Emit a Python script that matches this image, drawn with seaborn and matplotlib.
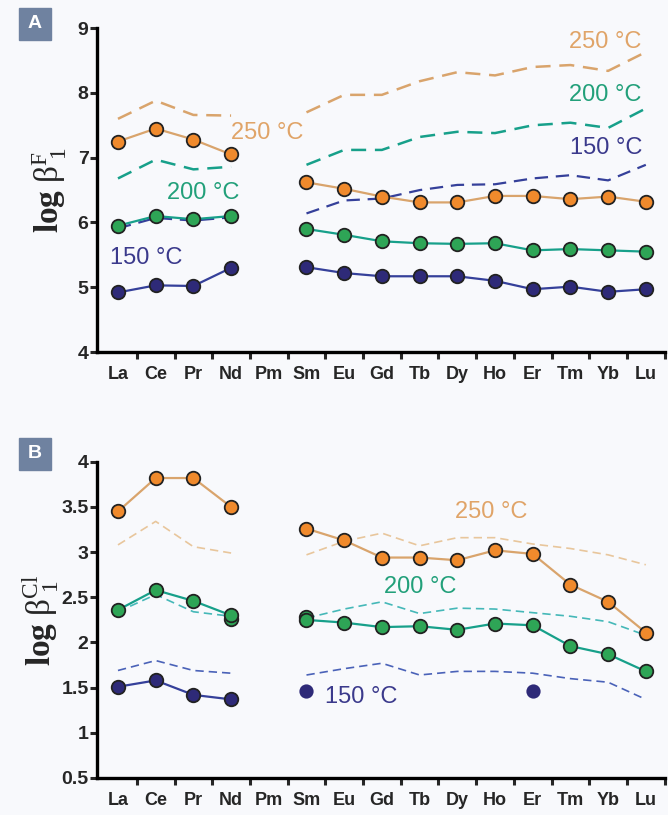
import numpy as np
import pandas as pd
import matplotlib
matplotlib.use("Agg")
import matplotlib.pyplot as plt
import seaborn as sns

# ==========================
# DATA
# ==========================

elements = ["La", "Ce", "Pr", "Nd", "Pm", "Sm", "Eu", "Gd", "Tb", "Dy", "Ho", "Er", "Tm", "Yb", "Lu"]
nan = np.nan

# panel A : log beta F 1 (measured, solid with markers)
a_250 = [7.25, 7.45, 7.28, 7.05, nan, 6.62, 6.52, 6.40, 6.31, 6.31, 6.41, 6.41, 6.36, 6.40, 6.32]
a_200 = [5.95, 6.10, 6.05, 6.10, nan, 5.90, 5.81, 5.71, 5.68, 5.67, 5.68, 5.57, 5.59, 5.57, 5.55]
a_150 = [4.92, 5.03, 5.02, 5.30, nan, 5.31, 5.22, 5.17, 5.17, 5.17, 5.10, 4.97, 5.01, 4.93, 4.97]

# panel A : predicted (dashed)
a_250_pred = [7.60, 7.88, 7.66, 7.65, nan, 7.70, 7.97, 7.97, 8.18, 8.32, 8.27, 8.40, 8.43, 8.34, 8.63]
a_200_pred = [6.68, 6.97, 6.82, 6.86, nan, 6.89, 7.12, 7.12, 7.32, 7.40, 7.38, 7.50, 7.54, 7.46, 7.76]
a_150_pred = [5.91, 6.07, 6.03, 6.08, nan, 6.14, 6.34, 6.37, 6.50, 6.58, 6.59, 6.68, 6.73, 6.65, 6.89]

# panel B : log beta Cl 1 (measured)
b_250 = [3.45, 3.82, 3.82, 3.50, nan, 3.26, 3.13, 2.94, 2.94, 2.91, 3.02, 2.98, 2.64, 2.45, 2.11]
b_200 = [2.36, 2.58, 2.46, 2.30, nan, 2.25, 2.22, 2.17, 2.18, 2.14, 2.21, 2.19, 1.96, 1.87, 1.68]
b_200_extra = [nan, nan, nan, 2.26, nan, 2.28, nan, nan, nan, nan, nan, nan, nan, nan, nan]
b_150 = [1.51, 1.58, 1.42, 1.37, nan, nan, nan, nan, nan, nan, nan, nan, nan, nan, nan]
b_150_pts = [nan, nan, nan, nan, nan, 1.46, nan, nan, nan, nan, nan, 1.46, nan, nan, nan]

# panel B : predicted (dashed)
b_250_pred = [3.08, 3.34, 3.06, 2.99, nan, 2.97, 3.12, 3.21, 3.07, 3.16, 3.16, 3.09, 3.04, 2.97, 2.86]
b_200_pred = [2.34, 2.53, 2.34, 2.29, nan, 2.27, 2.37, 2.45, 2.32, 2.38, 2.37, 2.33, 2.29, 2.23, 2.08]
b_150_pred = [1.69, 1.80, 1.69, 1.66, nan, 1.64, 1.71, 1.77, 1.64, 1.68, 1.68, 1.66, 1.60, 1.56, 1.37]

a_yticks = [4, 5, 6, 7, 8, 9]
b_yticks = [0.5, 1, 1.5, 2, 2.5, 3, 3.5, 4]
b_yticklabels = ["0.5", "1", "1.5", "2", "2.5", "3", "3.5", "4"]

# ==========================
# STYLE
# ==========================

sns.set_style("ticks")
plt.rcParams["font.family"] = ["Liberation Sans", "DejaVu Sans"]
plt.rcParams["mathtext.fontset"] = "custom"
plt.rcParams["mathtext.rm"] = "Liberation Serif"
plt.rcParams["mathtext.bf"] = "Liberation Serif:bold"
plt.rcParams["mathtext.it"] = "Liberation Serif:italic"

BG = "#f8f9fc"
orange_mk, orange_ln = "#f08a2c", "#d9a46c"
green_mk, green_ln = "#2ea556", "#17a08a"
blue_mk, blue_ln = "#2e2a78", "#35409a"


def to_frame(values):
    df = pd.DataFrame({"pos": np.arange(len(values)), "val": values})
    df["seg"] = np.where(df["pos"] < 4, 0, 1)
    return df.dropna()


def draw_line(ax, values, color, lw=1.6, dashes=None):
    df = to_frame(values)
    sns.lineplot(data=df, x="pos", y="val", units="seg", estimator=None,
                 color=color, lw=lw, ax=ax, legend=False)
    if dashes is not None:
        for ln in ax.lines[-df["seg"].nunique():]:
            ln.set_dashes(dashes)


def draw_points(ax, values, color, size=95, edge="#222222"):
    df = to_frame(values)
    sns.scatterplot(data=df, x="pos", y="val", color=color, s=size,
                    edgecolor=edge, linewidth=1.3, ax=ax, zorder=5, legend=False)


def style_axis(ax, ylim, yticks, yticklabels=None):
    ax.set_facecolor(BG)
    ax.set_xlim(-0.56, 14.5)
    ax.set_ylim(*ylim)
    ax.set_xticks(range(len(elements)))
    ax.set_xticklabels(elements, fontsize=13, fontweight="bold")
    ax.set_xticks(np.arange(0.5, 15, 1), minor=True)
    ax.tick_params(axis="x", which="major", length=0, pad=10)
    ax.tick_params(axis="x", which="minor", length=5, width=2.2, direction="out")
    ax.set_yticks(yticks)
    if yticklabels is not None:
        ax.set_yticklabels(yticklabels)
    ax.tick_params(axis="y", length=5, width=2.2, labelsize=14, pad=1)
    for t in ax.get_yticklabels():
        t.set_fontweight("bold")
    for s in ["top", "right"]:
        ax.spines[s].set_visible(False)
    for s in ["left", "bottom"]:
        ax.spines[s].set_linewidth(2.4)
        ax.spines[s].set_color("black")
    ax.set_xlabel("")


fig = plt.figure(figsize=(6.68, 8.15), dpi=100)
fig.patch.set_facecolor(BG)

axA = fig.add_axes([0.145, 0.568, 0.850, 0.3975])
axB = fig.add_axes([0.145, 0.0454, 0.850, 0.388])

# ==========================
# PANEL A
# ==========================

draw_line(axA, a_250_pred, orange_ln, lw=1.8, dashes=(6, 3.5))
draw_line(axA, a_200_pred, green_ln, lw=1.8, dashes=(6, 3.5))
draw_line(axA, a_150_pred, blue_ln, lw=1.6, dashes=(6, 3.5))
draw_line(axA, a_250, orange_ln)
draw_line(axA, a_200, green_ln)
draw_line(axA, a_150, blue_ln)
draw_points(axA, a_250, orange_mk)
draw_points(axA, a_200, green_mk)
draw_points(axA, a_150, blue_mk)

style_axis(axA, (4, 9), a_yticks)
axA.set_ylabel(r"$\mathbf{log}\ \mathrm{\beta}^{\mathrm{F}}_{\ \mathrm{1}}$", fontsize=24, labelpad=6)

lab = dict(fontsize=17, ha="left", va="center")
axA.text(3.0, 7.38, "250 °C", color="#e0a468", **lab)
axA.text(1.3, 6.45, "200 °C", color="#22a07a", **lab)
axA.text(-0.22, 5.45, "150 °C", color="#3b3a8c", **lab)
axA.text(11.95, 8.78, "250 °C", color="#e0a468", **lab)
axA.text(11.95, 7.97, "200 °C", color="#22a07a", **lab)
axA.text(12.0, 7.15, "150 °C", color="#3b3a8c", **lab)

# ==========================
# PANEL B
# ==========================

draw_line(axB, b_250_pred, "#e8c69c", lw=1.2, dashes=(5, 3))
draw_line(axB, b_200_pred, "#45b8b8", lw=1.2, dashes=(5, 3))
draw_line(axB, b_150_pred, "#4a62b8", lw=1.2, dashes=(5, 3))
draw_line(axB, b_250, orange_ln)
draw_line(axB, b_200, green_ln)
draw_line(axB, b_150, blue_ln)
draw_points(axB, b_200_extra, green_mk)
draw_points(axB, b_250, orange_mk)
draw_points(axB, b_200, green_mk)
draw_points(axB, b_150, blue_mk)
draw_points(axB, b_150_pts, blue_mk, size=80, edge=blue_mk)

style_axis(axB, (0.5, 4), b_yticks, b_yticklabels)
axB.set_ylabel(r"$\mathbf{log}\ \mathrm{\beta}^{\mathrm{Cl}}_{\ \mathrm{1}}$", fontsize=24, labelpad=0)

axB.text(8.95, 3.44, "250 °C", color="#e0a468", **lab)
axB.text(7.05, 2.61, "200 °C", color="#22a07a", **lab)
axB.text(5.5, 1.40, "150 °C", color="#3b3a8c", **lab)

# ==========================
# PANEL LETTERS
# ==========================

for letter, ypix in [("A", 8), ("B", 438)]:
    y0 = 1 - (ypix + 32) / 815
    fig.patches.append(plt.Rectangle((19 / 668, y0), 32 / 668, 32 / 815,
                                     transform=fig.transFigure, color="#6f82a0", zorder=0))
    fig.text(35 / 668, y0 + 16 / 815, letter, color="white", fontsize=14,
             fontweight="bold", ha="center", va="center")

plt.savefig("out.png", dpi=100, facecolor=BG)
plt.close()
